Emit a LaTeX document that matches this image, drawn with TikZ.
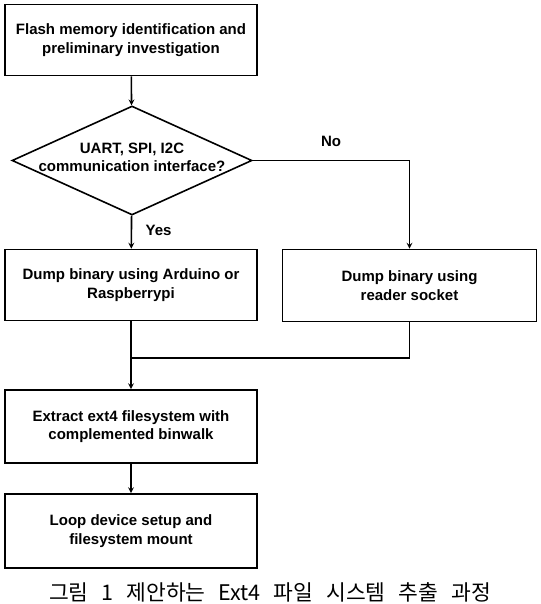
\documentclass[tikz,border=0pt]{standalone}
\usepackage{fontspec}
\setmainfont{Liberation Sans}
\newfontfamily\capfont[WordSpace=2.7]{Noto Sans CJK KR}
\usetikzlibrary{shapes.geometric}

\begin{document}
\begin{tikzpicture}[x=1pt, y=-1pt, line width=1.6pt,
    every node/.style={font=\fontsize{15}{18.5}\selectfont\bfseries, align=center},
    stepbox/.style={draw, rectangle, minimum width=252pt, minimum height=71pt, inner sep=0pt},
    choice/.style={draw, diamond, minimum width=240pt, minimum height=109pt, inner sep=0pt}]
    \useasboundingbox (0,0) rectangle (540,604);

    \node (a1) at (131,40) [stepbox] {Flash memory identification and\\preliminary investigation};

    \node (b1) at (132,160.5) [choice, label={[font=\fontsize{15}{18.5}\selectfont\bfseries, align=center, yshift=3pt]center:UART, SPI, I2C\\communication interface?}] {};
    \draw[-stealth] (a1) -- (b1);

    \node (c1) at (131,285) [stepbox] {Dump binary using Arduino or\\Raspberrypi};
    \draw[-stealth] (b1) -- node[right=10pt, pos=0.45] {Yes} (c1);

    \node (c2) at (409.5,285.5) [stepbox, minimum width=254pt, minimum height=72pt] {Dump binary using\\reader socket};
    \draw[-stealth] (b1.east) -| (c2);
    \node (no) at (331,141) {No};

    \coordinate (j1) at (131,358);
    \draw (c2) |- (j1);

    \node (d1) at (131,426.5) [stepbox, minimum height=73pt] {Extract ext4 filesystem with\\complemented binwalk};
    \draw[-stealth] (c1) -- (d1);

    \node (e1) at (131,531) [stepbox, minimum height=74pt] {Loop device setup and\\filesystem mount};
    \draw[-stealth] (d1) -- (e1);

    \node (cap) at (270,592) [font=\capfont\fontsize{21.5}{24}\selectfont] {그림 1 제안하는 Ext4 파일 시스템 추출 과정};
\end{tikzpicture}
\end{document}
